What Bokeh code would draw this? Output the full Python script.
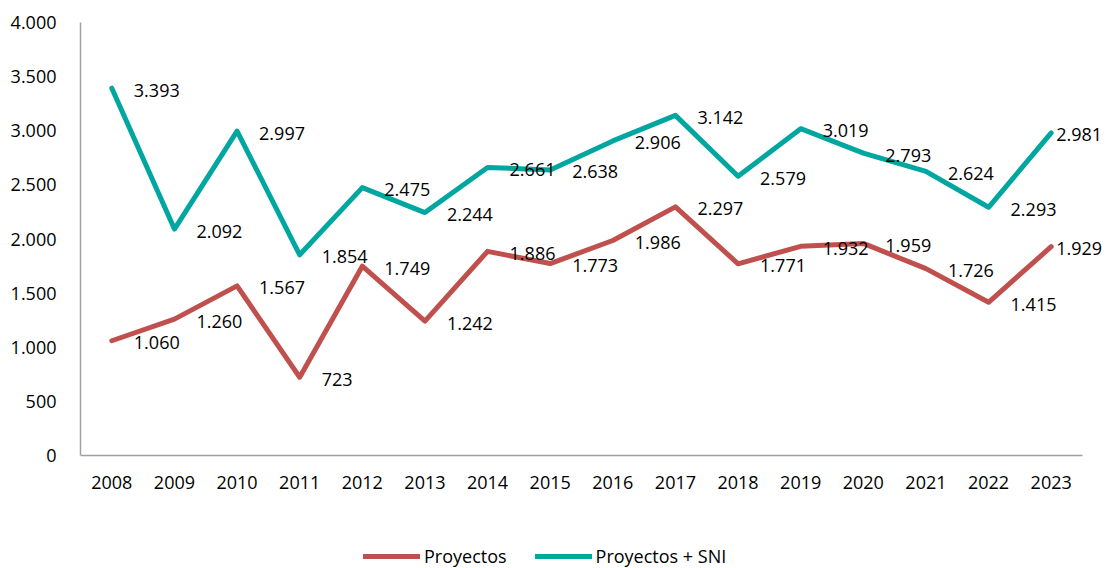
from bokeh.plotting import figure
from bokeh.models import Range1d, FixedTicker, Legend, LegendItem, ColumnDataSource, LabelSet
from bokeh.core.properties import value
from bokeh.embed import file_html
from bokeh.resources import INLINE

years = ["2008", "2009", "2010", "2011", "2012", "2013", "2014", "2015",
         "2016", "2017", "2018", "2019", "2020", "2021", "2022", "2023"]
proyectos = [1060, 1260, 1567, 723, 1749, 1242, 1886, 1773,
             1986, 2297, 1771, 1932, 1959, 1726, 1415, 1929]
proyectos_sni = [3393, 2092, 2997, 1854, 2475, 2244, 2661, 2638,
                 2906, 3142, 2579, 3019, 2793, 2624, 2293, 2981]
y_ticks = [0, 500, 1000, 1500, 2000, 2500, 3000, 3500, 4000]

RED = "#C0504D"
TEAL = "#00A6A0"
FONT = "Open Sans"
AXIS = "#A0A0A0"

def fmt(v):
    return f"{v:,}".replace(",", ".")

xs = [int(y) for y in years]
# category band edges (each year occupies one unit)
X_LO = xs[0] - 0.5
X_HI = xs[-1] + 0.5
# frame extends past the last band so right-hand labels are not clipped
X_END = X_HI + 24 / 62.625

Y_MAX = 4000
Y_MIN = -Y_MAX * 113 / 433

p = figure(width=1106, height=568, x_range=Range1d(X_LO, X_END), y_range=Range1d(Y_MIN, Y_MAX),
           output_backend="svg", toolbar_location=None, x_axis_location=None,
           min_border_left=80, min_border_right=0, min_border_top=22,
           min_border_bottom=0)
p.outline_line_color = None
p.xgrid.grid_line_color = None
p.ygrid.grid_line_color = None
p.background_fill_color = "white"

p.yaxis.bounds = (0, Y_MAX)
p.yaxis.axis_line_color = AXIS
p.yaxis.axis_line_width = 1.5
p.yaxis.major_tick_line_color = None
p.yaxis.minor_tick_line_color = None
p.yaxis.major_label_text_font = FONT
p.yaxis.major_label_text_font_size = "18px"
p.yaxis.major_label_text_color = "#000000"
p.yaxis.ticker = FixedTicker(ticks=y_ticks)
p.yaxis.major_label_overrides = {t: fmt(t) for t in y_ticks}
p.yaxis.major_label_standoff = 18

# horizontal category axis line
p.segment(x0=[X_LO], y0=[0], x1=[X_HI], y1=[0], line_color=AXIS, line_width=1.5)

year_src = ColumnDataSource(dict(x=xs, y=[0] * len(xs), t=years))
p.add_layout(LabelSet(x="x", y="y", text="t", source=year_src, y_offset=-27,
                      text_align="center", text_baseline="middle",
                      text_font=value(FONT), text_font_size="18px", text_color="#000000"))

offs = [22] * (len(years) - 1) + [5]
src_r = ColumnDataSource(dict(x=xs, y=proyectos, t=[fmt(v) for v in proyectos], dx=offs))
src_t = ColumnDataSource(dict(x=xs, y=proyectos_sni, t=[fmt(v) for v in proyectos_sni], dx=offs))

r_red = p.line("x", "y", source=src_r, line_color=RED, line_width=5, line_join="round", line_cap="round")
r_teal = p.line("x", "y", source=src_t, line_color=TEAL, line_width=5, line_join="round", line_cap="round")

for src in (src_r, src_t):
    p.add_layout(LabelSet(x="x", y="y", text="t", source=src, x_offset="dx", y_offset=-2,
                          text_align="left", text_baseline="middle",
                          text_font=value(FONT), text_font_size="18px", text_color="#000000"))

legend = Legend(items=[LegendItem(label="Proyectos", renderers=[r_red]),
                       LegendItem(label="Proyectos + SNI", renderers=[r_teal])],
                location=(283, 0), orientation="horizontal",
                glyph_width=57, glyph_height=20, label_standoff=4, spacing=28,
                padding=0, margin=0, border_line_color=None,
                background_fill_alpha=0,
                label_text_font=FONT, label_text_font_size="18px",
                label_text_color="#000000")
p.add_layout(legend, "center")

open("out.html", "w").write(file_html(p, INLINE))
